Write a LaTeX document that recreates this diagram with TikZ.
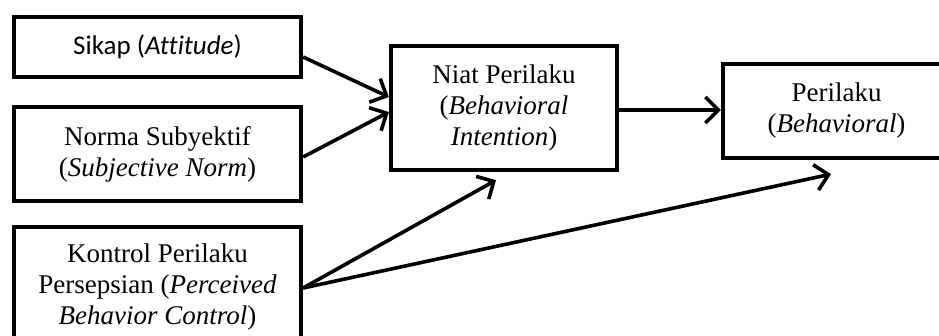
\documentclass[tikz,border=0pt]{standalone}
\usepackage{fontspec}
\setmainfont{Liberation Serif}
\newfontfamily\calib[Ligatures={NoCommon}]{Carlito}
\usetikzlibrary{arrows.meta}
\tikzset{
  boxnode/.style={draw=black, line width=4.3pt, fill=white, inner sep=0pt, align=center,
    font=\fontsize{27}{31}\selectfont},
  conn/.style={line width=3.6pt, -{Straight Barb[length=13pt,width=26pt,line width=3.6pt]}}
}
\begin{document}
\begin{tikzpicture}[x=1pt,y=-1pt]
\useasboundingbox[fill=white] (0,0) rectangle (939,336);
\node[boxnode, minimum width=287pt, minimum height=60pt] (sikap) at (157.5,47)
  {\calib Sikap (\textit{Attitude})};
\node[boxnode, minimum width=287pt, minimum height=94pt] (norma) at (157.5,154)
  {Norma Subyektif\\(\textit{Subjective Norm})};
\node[boxnode, minimum width=287pt, minimum height=120pt] (kontrol) at (157.5,287)
  {Kontrol Perilaku\\Persepsian (\textit{Perceived}\\\textit{Behavior Control})};
\node[boxnode, minimum width=226pt, minimum height=124pt] (niat) at (504,108)
  {Niat Perilaku\\(\textit{Behavioral}\\\textit{Intention})};
\node[boxnode, minimum width=227pt, minimum height=94pt] (perilaku) at (836.5,111)
  {Perilaku\\(\textit{Behavioral})};
\coordinate (tniat) at ([xshift=-8pt,yshift=-8pt]niat.south);
\coordinate (tper) at ([xshift=-5.5pt,yshift=-14pt]perilaku.south);
\draw[conn] ([yshift=-10pt]sikap.east) -- ([yshift=11pt]niat.west);
\draw[conn] ([yshift=-3pt]norma.east) -- ([yshift=-4pt]niat.west);
\draw[conn] ([yshift=-2pt]niat.east) -- ([yshift=1pt]perilaku.west);
\draw[conn] ([yshift=-1pt]kontrol.east) -- (tniat);
\draw[conn] ([yshift=-1pt]kontrol.east) -- (tper);
\end{tikzpicture}
\end{document}
